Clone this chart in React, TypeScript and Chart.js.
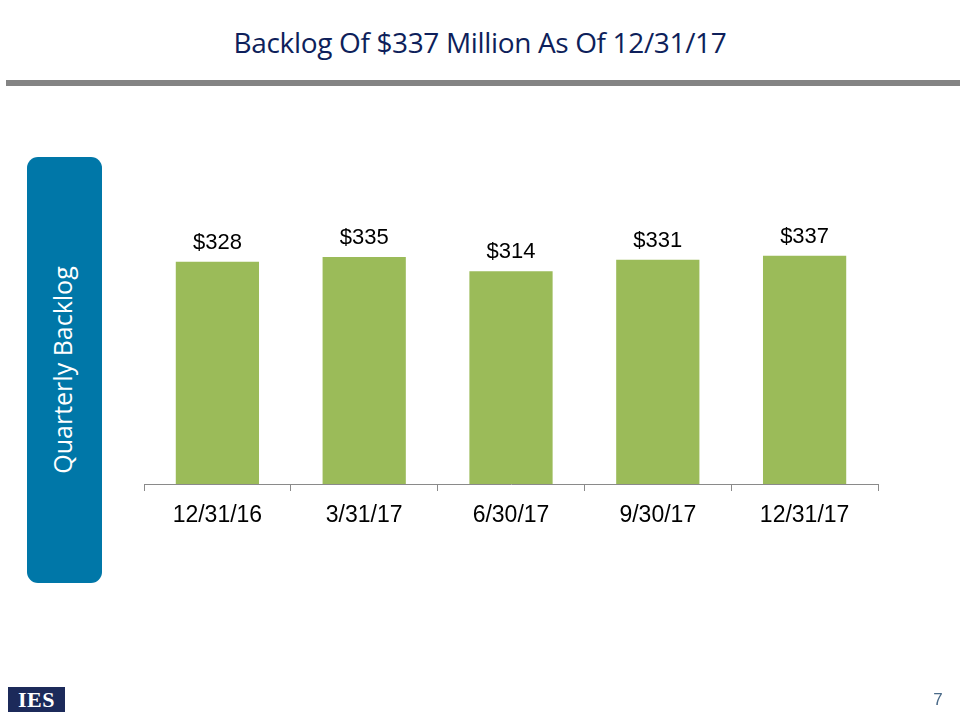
import React, { useEffect, useRef } from "react";
import { Chart, registerables } from "chart.js";

Chart.register(...registerables);

const categories = ["12/31/16", "3/31/17", "6/30/17", "9/30/17", "12/31/17"];
const backlogValues = [328, 335, 314, 331, 337];
const valueLabels = ["$328", "$335", "$314", "$331", "$337"];
const titleText = "Backlog Of $337 Million As Of 12/31/17";
const sideLabel = "Quarterly Backlog";
const pageNumber = "7";

const labelPlugin = {
  id: "valueLabels",
  afterDatasetsDraw(chart: any) {
    const ctx = chart.ctx;
    const meta = chart.getDatasetMeta(0);
    ctx.save();
    ctx.font = "22px 'Liberation Sans', Arial, sans-serif";
    ctx.fillStyle = "#000000";
    ctx.textAlign = "center";
    ctx.textBaseline = "middle";
    meta.data.forEach((bar: any, i: number) => {
      ctx.fillText(valueLabels[i], bar.x, bar.y - 19);
    });
    ctx.restore();
  },
};

export default function App() {
  const canvasRef = useRef<HTMLCanvasElement | null>(null);

  useEffect(() => {
    if (!canvasRef.current) return;
    const chart = new Chart(canvasRef.current, {
      type: "bar",
      data: {
        labels: categories,
        datasets: [
          {
            data: backlogValues,
            backgroundColor: "#9bbb59",
            borderWidth: 0,
            barPercentage: 0.567,
            categoryPercentage: 1,
          },
        ],
      },
      options: {
        responsive: false,
        animation: false,
        layout: { padding: { left: 144, right: 82, top: 213, bottom: 176 } },
        plugins: {
          legend: { display: false },
          tooltip: { enabled: false },
          title: { display: false },
        },
        scales: {
          x: {
            afterFit: (s: any) => {
              s.height = 60;
            },
            border: { display: true, color: "#8a8a8a", width: 1 },
            grid: {
              display: true,
              drawOnChartArea: false,
              drawTicks: true,
              tickLength: 7,
              color: "#8a8a8a",
              offset: true,
            },
            ticks: {
              color: "#000000",
              padding: 11,
              font: { family: "'Liberation Sans', Arial, sans-serif", size: 23 },
            },
          },
          y: {
            display: false,
            min: 0,
            max: 400,
          },
        },
      },
      plugins: [labelPlugin],
    });
    return () => chart.destroy();
  }, []);

  return (
    <div
      style={{
        position: "fixed",
        left: 0,
        top: 0,
        width: 960,
        height: 720,
        background: "#ffffff",
        overflow: "hidden",
      }}
    >
      <div
        style={{
          position: "absolute",
          left: 0,
          top: 22,
          width: 960,
          textAlign: "center",
          fontFamily: "'Open Sans', sans-serif",
          fontSize: 28,
          color: "#0e1f5b",
          lineHeight: "40px",
          letterSpacing: "-0.35px",
        }}
      >
        {titleText}
      </div>
      <div
        style={{
          position: "absolute",
          left: 6,
          top: 80,
          width: 954,
          height: 6,
          background: "#848484",
        }}
      />
      <div
        style={{
          position: "absolute",
          left: 27,
          top: 157,
          width: 75,
          height: 426,
          borderRadius: 11,
          background: "#0077a8",
        }}
      >
        <div
          style={{
            position: "absolute",
            left: "50%",
            top: "50%",
            transform: "translate(-51.5%, -50%) rotate(-90deg)",
            whiteSpace: "nowrap",
            color: "#ffffff",
            fontFamily: "'Open Sans', sans-serif",
            fontSize: 25,
          }}
        >
          {sideLabel}
        </div>
      </div>
      <canvas
        ref={canvasRef}
        width={960}
        height={720}
        style={{ position: "absolute", left: 0, top: 0, width: 960, height: 720 }}
      />
      <div
        style={{
          position: "absolute",
          left: 8,
          top: 687,
          width: 57,
          height: 25,
          background: "#1c2a5a",
          color: "#ffffff",
          fontFamily: "'Liberation Serif', 'DejaVu Serif', serif",
          fontWeight: "bold",
          fontSize: 22,
          lineHeight: "25px",
          textAlign: "center",
          letterSpacing: "0.5px",
        }}
      >
        IES
      </div>
      <div
        style={{
          position: "absolute",
          left: 930,
          top: 688,
          width: 16,
          textAlign: "center",
          fontFamily: "'Liberation Sans', Arial, sans-serif",
          fontSize: 17,
          color: "#4a6a88",
          lineHeight: "24px",
        }}
      >
        {pageNumber}
      </div>
    </div>
  );
}
